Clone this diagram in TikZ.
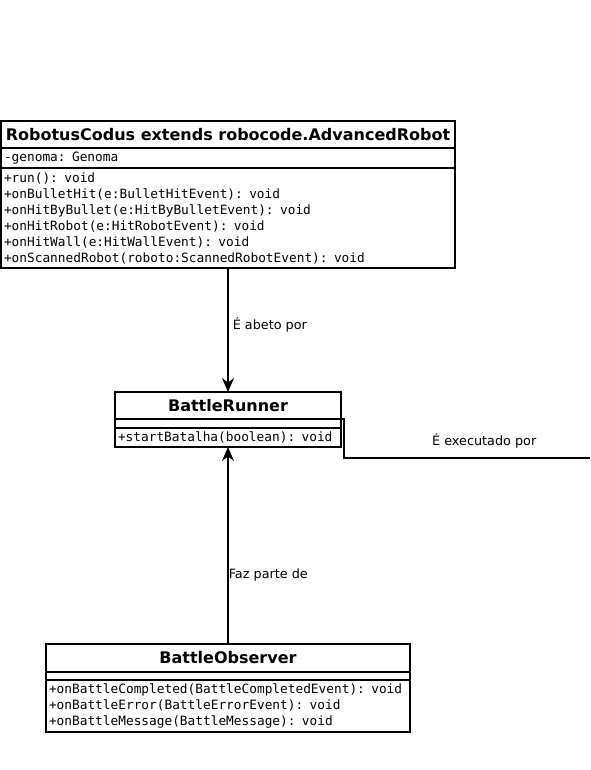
\documentclass[tikz,border=0pt]{standalone}
\usepackage{fontspec}
\setmainfont{DejaVu Sans}
\setmonofont{DejaVu Sans Mono}
\usetikzlibrary{arrows.meta}

\begin{document}
\begin{tikzpicture}[x=0.75pt, y=-0.75pt]

% Fix the page to the size of the reference
\useasboundingbox (0,0) rectangle (590,770);

% Styles for the class boxes and the connectors
\tikzstyle{caixa}=[draw, line width=1.2pt, anchor=north west, inner sep=0pt, outer sep=0pt]
\tikzstyle{titulo}=[caixa, font=\bfseries\fontsize{12}{14}\selectfont, align=center]
\tikzstyle{membros}=[caixa, font=\ttfamily\fontsize{9.6}{12}\selectfont, align=left, inner xsep=2.25pt]
\tikzstyle{rotulo}=[font=\fontsize{9.6}{11}\selectfont, inner sep=0pt]
\tikzstyle{seta}=[line width=1.2pt, -{Stealth[length=10.5pt, width=9pt]}]

% RobotusCodus
\node[titulo, minimum width=340.5pt, minimum height=20.25pt] (robo) at (1,121)
    {RobotusCodus extends robocode.AdvancedRobot};
\node[membros, text width=336pt, minimum height=15pt] (roboAtrib) at (1,148)
    {-genoma: Genoma};
\node[membros, text width=336pt, minimum height=75pt] (roboMetodos) at (1,168)
    {+run(): void\\
     +onBulletHit(e:BulletHitEvent): void\\
     +onHitByBullet(e:HitByBulletEvent): void\\
     +onHitRobot(e:HitRobotEvent): void\\
     +onHitWall(e:HitWallEvent): void\\
     +onScannedRobot(roboto:ScannedRobotEvent): void};

% BattleRunner
\node[titulo, minimum width=169.5pt, minimum height=20.25pt] (runner) at (115,392)
    {BattleRunner};
\node[caixa, minimum width=169.5pt, minimum height=6.75pt] (runnerAtrib) at (115,419) {};
\node[membros, text width=165pt, minimum height=14.25pt] (runnerMetodos) at (115,428)
    {+startBatalha(boolean): void};

% BattleObserver
\node[titulo, minimum width=273pt, minimum height=21pt] (observer) at (46,644)
    {BattleObserver};
\node[caixa, minimum width=273pt, minimum height=6pt] (observerAtrib) at (46,672) {};
\node[membros, text width=268.5pt, minimum height=39pt] (observerMetodos) at (46,680)
    {+onBattleCompleted(BattleCompletedEvent): void\\
     +onBattleError(BattleErrorEvent): void\\
     +onBattleMessage(BattleMessage): void};

% Connectors
\coordinate (fim) at (590,458);
\draw[seta] (roboMetodos.south) -- (runner.north)
    node[rotulo, pos=0.46, anchor=west, xshift=3pt] {É abeto por};
\draw[seta] (observer.north) -- (runnerMetodos.south)
    node[rotulo, pos=0.35, anchor=west] {Faz parte de};
\draw[line width=1.2pt] (runnerAtrib.north east) -| (344,458) -- (fim)
    node[rotulo, pos=0.57, above=7pt] {É executado por};

\end{tikzpicture}
\end{document}
